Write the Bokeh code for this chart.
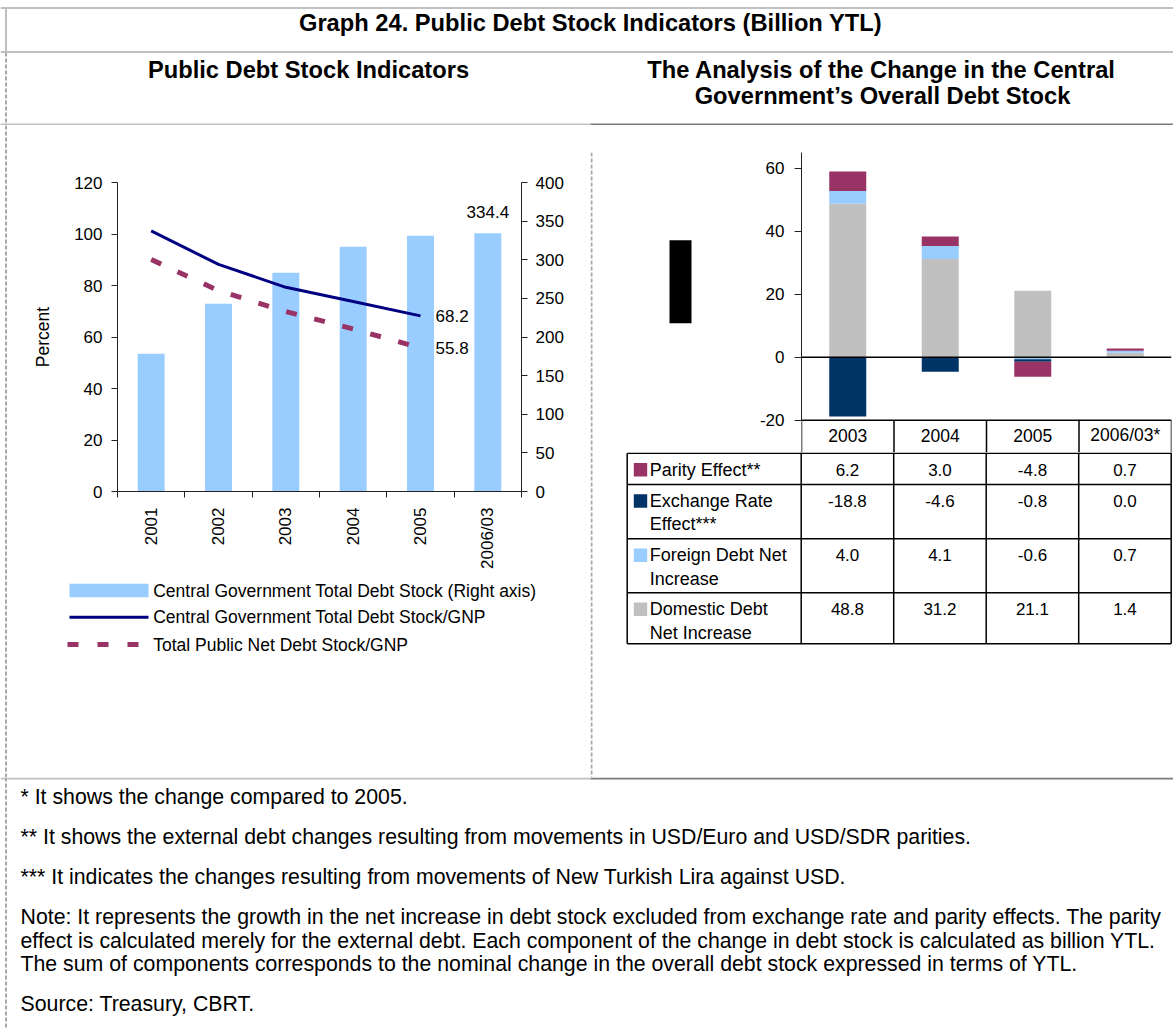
import math
from bokeh.plotting import figure
from bokeh.models import Range1d, LinearAxis, FixedTicker, Span
from bokeh.layouts import row, column
from bokeh.embed import file_html
from bokeh.resources import INLINE
from bokeh.core.properties import value

FONT = "Liberation Sans"

# ---------------- data ----------------
years_left = ["2001", "2002", "2003", "2004", "2005", "2006/03"]
debt_stock = [178.3, 243.1, 283.2, 316.8, 331.1, 334.4]          # billion YTL (right axis)
cg_debt_gnp = [101.2, 88.2, 79.3, 73.8, 68.2]                    # percent
public_net_debt_gnp = [90.1, 78.0, 69.9, 63.1, 55.8]             # percent
left_yticks = [0, 20, 40, 60, 80, 100, 120]
right_yticks = [0, 50, 100, 150, 200, 250, 300, 350, 400]

years_right = ["2003", "2004", "2005", "2006/03*"]
parity = [6.2, 3.0, -4.8, 0.7]
exchange = [-18.8, -4.6, -0.8, 0.0]
foreign = [4.0, 4.1, -0.6, 0.7]
domestic = [48.8, 31.2, 21.1, 1.4]
right_yticks2 = [-20, 0, 20, 40, 60]

series_table = [
    (["Parity Effect**"], parity, "#993366"),
    (["Exchange Rate", "Effect***"], exchange, "#003366"),
    (["Foreign Debt Net", "Increase"], foreign, "#99CCFF"),
    (["Domestic Debt", "Net Increase"], domestic, "#C0C0C0"),
]
stack_order = [domestic, foreign, exchange, parity]
stack_colors = ["#C0C0C0", "#99CCFF", "#003366", "#993366"]

title_text = "Graph 24. Public Debt Stock Indicators (Billion YTL)"
left_title = "Public Debt Stock Indicators"
right_title = ["The Analysis of the Change in the Central", "Government\u2019s Overall Debt Stock"]
legend_labels = ["Central Government Total Debt Stock (Right axis)",
                 "Central Government Total Debt Stock/GNP",
                 "Total Public Net Debt Stock/GNP"]
footnotes = [
    "* It shows the change compared to 2005.",
    "** It shows the external debt changes resulting from movements in USD/Euro and USD/SDR parities.",
    "*** It indicates the changes resulting from movements of New Turkish Lira against USD.",
    "Note: It represents the growth in the net increase in debt stock excluded from exchange rate and parity effects. The parity",
    "effect is calculated merely for the external debt. Each component of the change in debt stock is calculated as billion YTL.",
    "The sum of components corresponds to the nominal change in the overall debt stock expressed in terms of YTL.",
    "Source: Treasury, CBRT.",
]

BAR_C = "#99CCFF"
NAVY = "#000080"
PLUM = "#993366"
LG = "#c0c0c0"
DG = "#7a7a7a"
DASH_GRAY = "#a8a8a8"
AXIS_C = "#222222"
BOLD_SIZE = "23.7px"


def canvas(w, h, xr=None):
    p = figure(width=w, height=h, x_range=xr if xr is not None else Range1d(0, w),
               y_range=Range1d(h, 0), output_backend="svg", toolbar_location=None,
               min_border=0, x_axis_location=None, y_axis_location=None)
    p.xgrid.grid_line_color = None
    p.ygrid.grid_line_color = None
    p.outline_line_color = None
    return p


def txt(p, x, y, s, size, bold=False, align="left"):
    p.text(x=[x], y=[y], text=[s], text_font=value(FONT), text_font_size=size,
           text_font_style="bold" if bold else "normal", text_align=align,
           text_baseline="middle", text_color="black")


def dashed_v(p, x, y0, y1):
    p.segment(x0=[x], y0=[y0], x1=[x], y1=[y1], line_color=DASH_GRAY, line_width=2, line_dash="4 2")


# ---------------- header (page y 0..125) ----------------
hdr = canvas(1173, 125)
hdr.segment(x0=[0, 0, 0], y0=[7.5, 51.5, 124], x1=[1173, 1173, 590], y1=[7.5, 51.5, 124],
            line_color=LG, line_width=2)
hdr.segment(x0=[590], y0=[124], x1=[1173], y1=[124], line_color=DG, line_width=2)
hdr.segment(x0=[5.5], y0=[7], x1=[5.5], y1=[52], line_color=LG, line_width=2)
dashed_v(hdr, 5.5, 52, 125)
txt(hdr, 590, 22.5, title_text, BOLD_SIZE, bold=True, align="center")
txt(hdr, 308, 69.8, left_title, BOLD_SIZE, bold=True, align="center")
txt(hdr, 881, 69.2, right_title[0], BOLD_SIZE, bold=True, align="center")
txt(hdr, 882, 95.8, right_title[1], BOLD_SIZE, bold=True, align="center")

# ---------------- left strip (page x 0..14) ----------------
strip = canvas(14, 652)
dashed_v(strip, 5.5, 0, 652)

# ---------------- left chart (page x 14..590, y 125..572) ----------------
nL = len(years_left)
xsL = [i + 0.5 for i in range(nL)]
pl = figure(width=576, height=447, x_range=Range1d(0, nL), y_range=Range1d(0, 120),
            output_backend="svg", toolbar_location=None,
            min_border_left=103, min_border_right=69, min_border_top=57, min_border_bottom=81)
pl.extra_y_ranges = {"right": Range1d(0, 400)}
pl.xgrid.grid_line_color = None
pl.ygrid.grid_line_color = None
pl.outline_line_color = None

pl.vbar(x=xsL, top=debt_stock, bottom=0, width=0.4, y_range_name="right",
        fill_color=BAR_C, line_color=None)
pl.line(xsL[:len(cg_debt_gnp)], cg_debt_gnp, line_color=NAVY, line_width=3)
pl.line(xsL[:len(public_net_debt_gnp)], public_net_debt_gnp, line_color=PLUM,
        line_width=5, line_dash="11 18")

pl.text(x=[xsL[-1]], y=[debt_stock[-1]], text=[f"{debt_stock[-1]:.1f}"], y_range_name="right",
        y_offset=-21.5, text_align="center", text_baseline="middle",
        text_font=value(FONT), text_font_size="17px", text_color="black")
pl.text(x=[xsL[len(cg_debt_gnp) - 1]] * 2, y=[cg_debt_gnp[-1], public_net_debt_gnp[-1]],
        text=[f"{cg_debt_gnp[-1]:.1f}", f"{public_net_debt_gnp[-1]:.1f}"],
        x_offset=15, y_offset=0, text_align="left", text_baseline="middle",
        text_font=value(FONT), text_font_size="17px", text_color="black")

xa = pl.xaxis[0]
xa.ticker = FixedTicker(ticks=xsL, minor_ticks=list(range(nL + 1)))
xa.major_label_overrides = {x: lab for x, lab in zip(xsL, years_left)}
xa.major_label_orientation = math.pi / 2
xa.major_tick_out = 6
xa.major_tick_in = 0
xa.major_tick_line_color = None
xa.minor_tick_out = 6
xa.minor_tick_in = 0
xa.minor_tick_line_color = AXIS_C
xa.major_label_standoff = 10

ya = pl.yaxis[0]
ya.ticker = FixedTicker(ticks=left_yticks)
ya.axis_label = "Percent"
ya.axis_label_text_font_style = "normal"
ya.axis_label_standoff = 18

ra = LinearAxis(y_range_name="right", ticker=FixedTicker(ticks=right_yticks))
pl.add_layout(ra, "right")

for ax in [xa, ya, ra]:
    ax.axis_line_color = AXIS_C
    ax.major_label_text_font = FONT
    ax.major_label_text_font_size = "17px"
    ax.major_label_text_color = "black"
    ax.axis_label_text_font = FONT
    ax.axis_label_text_font_size = "17.5px"
    ax.axis_label_text_color = "black"
for ax in [ya, ra]:
    ax.major_tick_out = 6
    ax.major_tick_in = 0
    ax.minor_tick_line_color = None
    ax.major_tick_line_color = AXIS_C
ya.major_label_standoff = 9
ra.major_label_standoff = 8

# ---------------- left legend (page x 14..590, y 572..777) ----------------
lg = canvas(576, 205)
SW_X0, SW_X1 = 55, 134
row_c = [18.0, 44.7, 72.0]
lg.quad(left=[SW_X0], right=[SW_X1], top=[row_c[0] - 6.7], bottom=[row_c[0] + 6.7],
        fill_color=BAR_C, line_color=None)
lg.segment(x0=[SW_X0], y0=[row_c[1]], x1=[SW_X1], y1=[row_c[1]], line_color=NAVY, line_width=3)
lg.segment(x0=[SW_X0 - 2], y0=[row_c[2]], x1=[SW_X1 - 9], y1=[row_c[2]], line_color=PLUM,
           line_width=5, line_dash="11 19")
lg.text(x=[SW_X1 + 4.7] * 3, y=row_c, text=legend_labels,
        text_align="left", text_baseline="middle", text_font=value(FONT),
        text_font_size="17.5px", text_color="black")

# ---------------- right chart: left canvas (page x 590..750, y 125..452) ----------------
RH = 327
rleft = canvas(160, RH)
dashed_v(rleft, 1, 0, RH)
rleft.quad(left=[79], right=[101], top=[95.7], bottom=[186], fill_color="black", line_color=None)

# ---------------- right chart with table header row (page x 750..1173, y 125..452) ----------------
nR = len(years_right)
xsR = [i + 0.5 for i in range(nR)]
PX_PER_UNIT = 3.15
TOP_B = 27
FRAME_H = RH - TOP_B
y_top = 65
y_bot = y_top - FRAME_H / PX_PER_UNIT
y_min = min(right_yticks2)
pr = figure(width=423, height=RH, x_range=Range1d(0, nR), y_range=Range1d(y_bot, y_top),
            output_backend="svg", toolbar_location=None, x_axis_location=None,
            min_border_left=51, min_border_right=2, min_border_top=TOP_B, min_border_bottom=0)
pr.xgrid.grid_line_color = None
pr.ygrid.grid_line_color = None
pr.outline_line_color = None

pos = [0.0] * nR
neg = [0.0] * nR
for vals, col in zip(stack_order, stack_colors):
    bots, tops = [], []
    for i, v in enumerate(vals):
        if v >= 0:
            b = pos[i]; pos[i] = b + v
        else:
            b = neg[i]; neg[i] = b + v
        bots.append(b)
        tops.append(b + v)
    pr.vbar(x=xsR, bottom=bots, top=tops, width=0.4, fill_color=col, line_color=None)

pr.add_layout(Span(location=0, dimension="width", line_color="black", line_width=1.5))
# header row of the table, hanging below the axis minimum
pr.segment(x0=[0], y0=[y_min], x1=[nR], y1=[y_min], line_color="black", line_width=1.5)
pr.segment(x0=list(range(1, nR + 1)), y0=[y_min] * nR, x1=list(range(1, nR + 1)),
           y1=[y_bot] * nR, line_color="black", line_width=1.5)
pr.segment(x0=[0], y0=[y_min], x1=[0], y1=[y_bot], line_color="black", line_width=1.5)
pr.text(x=xsR, y=[y_min] * nR, y_offset=15, text=years_right, text_align="center",
        text_baseline="middle", text_font=value(FONT), text_font_size="17.5px",
        text_color="black")

yr = pr.yaxis[0]
yr.ticker = FixedTicker(ticks=right_yticks2)
yr.bounds = (y_min, y_top)
yr.major_label_overrides = {t: str(t) for t in right_yticks2}
yr.major_tick_out = 7
yr.major_tick_in = 0
yr.minor_tick_line_color = None
yr.major_label_standoff = 10
yr.axis_line_color = AXIS_C
yr.major_tick_line_color = AXIS_C
yr.major_label_text_font = FONT
yr.major_label_text_font_size = "17px"
yr.major_label_text_color = "black"

# ---------------- table body (page x 590..1173, y 452..777) ----------------
AX0 = 210.7   # px of category 0 inside the table canvas
CW = 92.5     # px per category
TH = 652 - RH
tb = canvas(583, TH, xr=Range1d(-AX0 / CW, (583 - AX0) / CW))

XL = (36.7 - AX0) / CW
row_tops = [0.75, 32.0, 86.3, 140.3]
t_bottom = 191.3
dashed_v(tb, (1 - AX0) / CW, 0, TH)
tb.segment(x0=[XL] * (len(row_tops) + 1), y0=row_tops + [t_bottom],
           x1=[nR] * (len(row_tops) + 1), y1=row_tops + [t_bottom],
           line_color="black", line_width=1.5)
tb.segment(x0=list(range(nR + 1)), y0=[0] * (nR + 1), x1=list(range(nR + 1)),
           y1=[t_bottom] * (nR + 1), line_color="black", line_width=1.5)
tb.segment(x0=[XL], y0=[row_tops[0]], x1=[XL], y1=[t_bottom], line_color="black", line_width=1.5)

for (labels, vals, col), top in zip(series_table, row_tops):
    tb.text(x=xsR, y=[top + 16.5] * nR, text=[f"{v:.1f}" for v in vals],
            text_align="center", text_baseline="middle",
            text_font=value(FONT), text_font_size="17px", text_color="black")
    for k, lab in enumerate(labels):
        tb.text(x=[(59.3 - AX0) / CW], y=[top + 16.5 + 23.2 * k], text=[lab],
                text_align="left", text_baseline="middle",
                text_font=value(FONT), text_font_size="18px", text_color="black")
    tb.quad(left=[(43.3 - AX0) / CW], right=[(56.7 - AX0) / CW],
            top=[top + 16.5 - 6.7], bottom=[top + 16.5 + 6.7],
            fill_color=col, line_color=None)

# ---------------- footer (page y 777..1028) ----------------
ft = canvas(1173, 251)
ft.segment(x0=[0], y0=[1], x1=[590], y1=[1], line_color=LG, line_width=2)
ft.segment(x0=[590], y0=[1], x1=[1173], y1=[1], line_color=DG, line_width=2)
dashed_v(ft, 5.5, 0, 251)
foot_y = [19.7, 59.7, 99.7, 139.7, 163.0, 186.3, 226.3]
ft.text(x=[20] * len(footnotes), y=foot_y, text=footnotes, text_align="left",
        text_baseline="middle", text_font=value(FONT), text_font_size="21.3px",
        text_color="black")

layout = column(hdr,
                row(strip, column(row(pl), row(lg)), column(row(rleft, pr), row(tb))),
                ft)
open("out.html", "w").write(file_html(layout, INLINE))
